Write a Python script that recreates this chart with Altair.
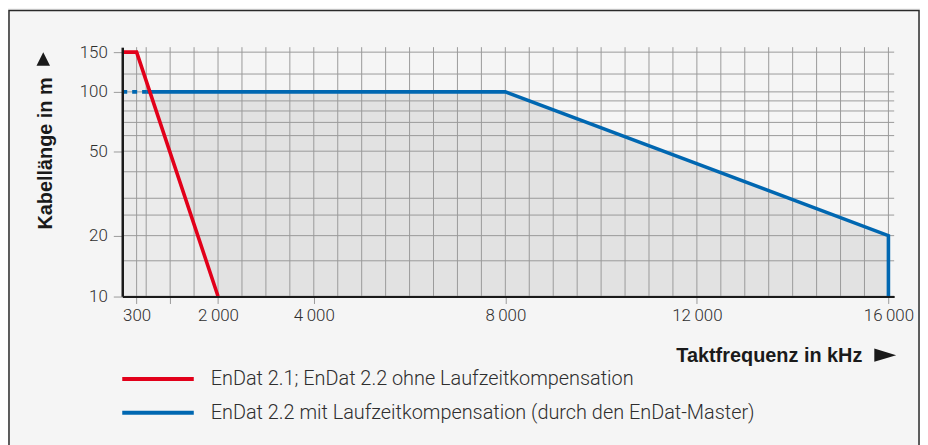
import altair as alt
import pandas as pd

# ---- data ----
red_x = [0, 300, 2000]
red_y = [150, 150, 10]
blue_dash_x = [0, 500]
blue_dash_y = [100, 100]
blue_x = [500, 8000, 16000, 16000]
blue_y = [100, 100, 20, 10]
blue_area_x = [0, 8000, 16000]
blue_area_y = [100, 100, 20]

x_tick_values = [300, 1000, 2000, 4000, 8000, 12000, 16000]
x_tick_labels = ["300", "", "2\u2009000", "4\u2009000", "8\u2009000", "12\u2009000", "16\u2009000"]
y_label_values = [10, 20, 50, 100, 150]
x_grid = [300, 500] + [1000 + 500 * i for i in range(31)]
y_grid = [10, 15, 20, 25, 30, 40, 50, 60, 70, 80, 90, 100, 120, 150]

series_names = ["EnDat 2.1; EnDat 2.2 ohne Laufzeitkompensation",
                "EnDat 2.2 mit Laufzeitkompensation (durch den EnDat-Master)"]
series_colors = ["#e2001a", "#0067b1"]
x_title = "Taktfrequenz in kHz"
y_title = "Kabellänge in m"

# ---- layout ----
W, H = 777, 251
PAD = {"left": 115, "top": 38, "right": 26, "bottom": 148}
X_MAX = 16120
Y_DOMAIN = [10, 20, 50, 100, 150, 157.7]
Y_RANGE = [250.7, 189.7, 104.7, 45, 5, 0]
LABEL_FONT = "Roboto"
TITLE_FONT = "Liberation Sans"
TXT = "#2e2e2e"
DARK = "#1a1a1a"

xs = alt.Scale(domain=[0, X_MAX], nice=False, zero=False)
ys = alt.Scale(type="log", domain=Y_DOMAIN, range=Y_RANGE, nice=False)

label_expr = "''"
for v, l in zip(reversed(x_tick_values), reversed(x_tick_labels)):
    label_expr = f"datum.value == {v} ? '{l}' : ({label_expr})"

xaxis = alt.Axis(values=x_tick_values, labelExpr=label_expr, title=None, grid=False,
                 domainColor=DARK, domainWidth=2, tickColor="#9a9a9a", tickSize=7,
                 tickWidth=1, labelFont=LABEL_FONT, labelFontSize=17, labelFontWeight=300,
                 labelColor=TXT, labelPadding=4, labelFlush=False, labelOverlap=False,
                 zindex=1)
yaxis = alt.Axis(values=y_label_values, title=None, grid=False, format="d",
                 domainColor=DARK, domainWidth=2.5, tickColor="#9a9a9a", tickSize=9,
                 tickWidth=1, labelFont=LABEL_FONT, labelFontSize=17, labelFontWeight=300,
                 labelColor=TXT, labelPadding=6, labelFlush=False, labelOverlap=False,
                 zindex=1)


def df(xv, yv):
    return pd.DataFrame({"x": xv, "y": yv, "i": list(range(len(xv))), "base": [10] * len(xv)})


one = pd.DataFrame({"a": [0]})

blue_area = alt.Chart(df(blue_area_x, blue_area_y)).mark_area(color="#e2e2e2").encode(
    x=alt.X("x:Q", scale=xs, axis=xaxis),
    y=alt.Y("y:Q", scale=ys, axis=yaxis),
    y2="base:Q",
)
red_area = alt.Chart(df(red_x, red_y)).mark_area(color="#ebebeb").encode(
    x=alt.X("x:Q", scale=xs, axis=xaxis),
    y=alt.Y("y:Q", scale=ys, axis=yaxis),
    y2="base:Q",
)

vgrid = alt.Chart(pd.DataFrame({"x": x_grid})).mark_rule(color="#9a9a9a", strokeWidth=1).encode(
    x=alt.X("x:Q", scale=xs, axis=xaxis),
    y=alt.datum(Y_DOMAIN[-1]),
    y2=alt.datum(10),
)
hgrid = alt.Chart(pd.DataFrame({"y": y_grid})).mark_rule(color="#9a9a9a", strokeWidth=1).encode(
    y=alt.Y("y:Q", scale=ys, axis=yaxis),
    x=alt.datum(0),
    x2=alt.datum(X_MAX),
)


def line(xv, yv, color, dash=None):
    kw = dict(color=color, strokeWidth=3.6, strokeCap="butt", strokeJoin="miter")
    if dash:
        kw["strokeDash"] = dash
    return alt.Chart(df(xv, yv)).mark_line(**kw).encode(
        x=alt.X("x:Q", scale=xs, axis=xaxis),
        y=alt.Y("y:Q", scale=ys, axis=yaxis),
        order="i:Q",
    )


red_line = line(red_x, red_y, series_colors[0])
blue_dash = line(blue_dash_x, blue_dash_y, series_colors[1], [5, 5])
blue_line = line(blue_x, blue_y, series_colors[1])

# frame around the panel
frame = alt.Chart(one).mark_rect(fillOpacity=0, stroke="#2a2a2a", strokeWidth=1.5).encode(
    x=alt.value(-114), x2=alt.value(802), y=alt.value(-37), y2=alt.value(H + 170)
)

# titles with their arrow heads
ytitle = alt.Chart(one).mark_text(text=y_title, angle=270, font=TITLE_FONT, fontSize=20,
                                  fontWeight="bold", color=DARK, align="center",
                                  baseline="middle").encode(x=alt.value(-77), y=alt.value(107))
yarrow = alt.Chart(one).mark_point(shape="M -1 1 L 0 -1 L 1 1 Z", size=185, filled=True,
                                   color=DARK, opacity=1, strokeWidth=0).encode(
    x=alt.value(-79.5), y=alt.value(12))
xtitle = alt.Chart(one).mark_text(text=x_title, font=TITLE_FONT, fontSize=20,
                                  fontWeight="bold", color=DARK, align="right",
                                  baseline="middle").encode(x=alt.value(745), y=alt.value(311))
xarrow = alt.Chart(one).mark_point(shape="M -1 -0.6 L 1 0 L -1 0.6 Z", size=484, filled=True,
                                   color=DARK, opacity=1, strokeWidth=0).encode(
    x=alt.value(768), y=alt.value(310))

# legend
legend_layers = []
for k, (name, col) in enumerate(zip(series_names, series_colors)):
    yy = 334 + 34 * k
    legend_layers.append(alt.Chart(one).mark_rule(color=col, strokeWidth=4).encode(
        x=alt.value(0), x2=alt.value(72), y=alt.value(yy)))
    legend_layers.append(alt.Chart(one).mark_text(text=name, font=LABEL_FONT, fontWeight=300,
                                                  fontSize=20, color=TXT, align="left",
                                                  baseline="middle").encode(
        x=alt.value(89), y=alt.value(yy)))

chart = alt.layer(
    frame, blue_area, red_area, vgrid, hgrid, blue_dash, blue_line, red_line,
    ytitle, yarrow, xtitle, xarrow, *legend_layers
).properties(
    width=W, height=H, background="#f5f5f5", padding=PAD,
    autosize=alt.AutoSizeParams(type="none"),
).configure_view(stroke=None)

chart.save("out.html", embed_options={"renderer": "svg", "actions": False})
